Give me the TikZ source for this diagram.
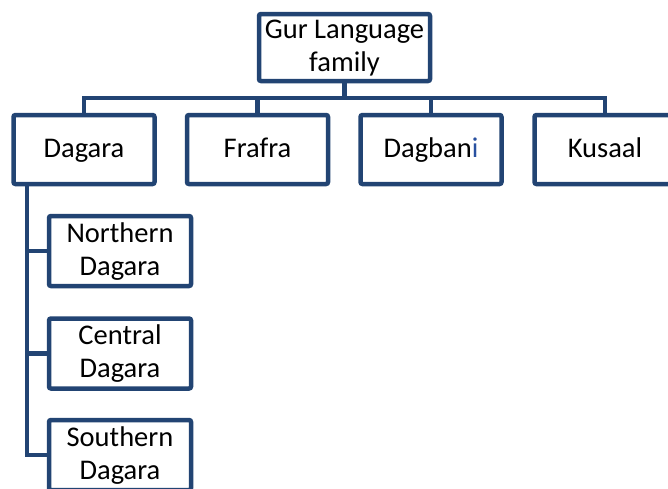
\documentclass[tikz,border=0pt]{standalone}
\usepackage{fontspec}
\setmainfont{Carlito}
\definecolor{boxblue}{RGB}{34,68,115}
\definecolor{ibluec}{RGB}{40,80,160}
\newcommand\mystrut{\rule[-8pt]{0pt}{31pt}}
\begin{document}
\begin{tikzpicture}[x=1pt,y=-1pt,
  box/.style={draw=boxblue,line width=4.5pt,rounded corners=2pt,fill=white,
    align=center,inner sep=0pt,font=\fontsize{28.5}{33}\selectfont},
  topbox/.style={box,minimum width=171pt,minimum height=67pt},
  midbox/.style={box,minimum width=141pt,minimum height=69pt},
  subbox/.style={box,minimum width=142pt,minimum height=70pt},
  link/.style={draw=boxblue,line width=4.5pt,line cap=rect}]
\useasboundingbox (0,0) rectangle (668,488);
\clip (0,0) rectangle (668,488);
\fill[white] (0,0) rectangle (668,488);
\coordinate (bus) at (344.5,98);
\coordinate (busL) at (84,98);
\coordinate (busR) at (605,98);
\coordinate (b1) at (257.5,98);
\coordinate (b2) at (431,98);
\node[topbox] (top) at (344.5,47.5) {\mystrut Gur Language\\\mystrut family};
\node[midbox] (dagara) at (84,149.5) {\mystrut Dagara};
\node[midbox] (frafra) at (257.5,149.5) {\mystrut Frafra};
\node[midbox] (dagbani) at (431,149.5) {\mystrut Dagban{\color{ibluec}i}};
\node[midbox] (kusaal) at (605,149.5) {\mystrut Kusaal};
\node[subbox] (north) at (120,251) {\mystrut Northern\\\mystrut Dagara};
\node[subbox] (central) at (120,353.5) {\mystrut Central\\\mystrut Dagara};
\node[subbox] (south) at (120,455) {\mystrut Southern\\\mystrut Dagara};
\coordinate (trunk) at (27,455);
\draw[link] (top.south) -- (bus);
\draw[link] (busL) -- (busR);
\draw[link] (busL) -- (dagara.north);
\draw[link] (b1) -- (frafra.north);
\draw[link] (b2) -- (dagbani.north);
\draw[link] (busR) -- (kusaal.north);
\draw[link] (dagara.south -| trunk) -- (trunk);
\draw[link] (north.west -| trunk) -- (north.west);
\draw[link] (central.west -| trunk) -- (central.west);
\draw[link] (trunk) -- (south.west);
\end{tikzpicture}
\end{document}
